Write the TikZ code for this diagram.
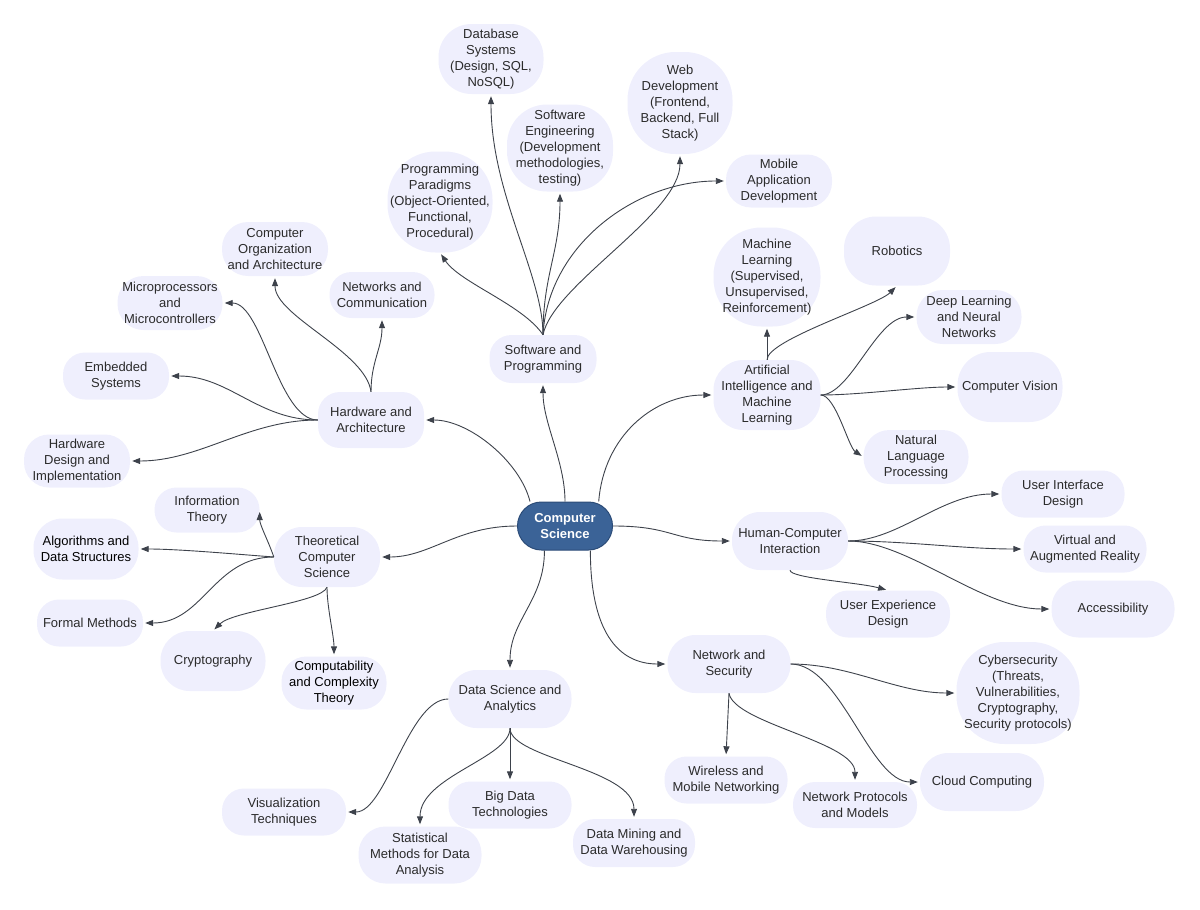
\documentclass[tikz,border=0pt]{standalone}
\usepackage{fontspec}
\setmainfont{Liberation Sans}
\usepackage{xcolor}
\usetikzlibrary{arrows.meta}
\definecolor{topicfill}{HTML}{EFEFFD}
\definecolor{mainfill}{HTML}{3B6397}
\definecolor{mainline}{HTML}{2C4C78}
\definecolor{linkgray}{HTML}{3D424B}
\definecolor{textgray}{HTML}{2B2B2B}

\begin{document}
\begin{tikzpicture}[x=1pt,y=-1pt,
	topic/.style={fill=topicfill,rounded corners=22pt,align=center,text=textgray,inner sep=1pt,font=\fontsize{13}{16}\selectfont},
	blob/.style={topic,rounded corners=40pt},
	wh/.style 2 args={minimum width=#1pt,minimum height=#2pt},
	root/.style={fill=mainfill,draw=mainline,line width=1pt,rounded corners=24pt,align=center,text=white,font=\fontsize{13}{16}\selectfont\bfseries},
	link/.style={draw=linkgray,line width=0.9pt,-{Triangle[length=8pt,width=6pt]},shorten >=2pt}]
	\useasboundingbox (0,0) rectangle (1200,910);

	\node[root,wh={95}{48}] (cs) at (565,526) {Computer\\Science};

	\node[topic,wh={107}{48}] (sw) at (543,359) {Software and\\Programming};
	\node[topic,wh={106}{56}] (hw) at (371,420) {Hardware and\\Architecture};
	\node[topic,wh={107}{70},rounded corners=30pt] (ai) at (767,395) {Artificial\\Intelligence and\\Machine\\Learning};
	\node[topic,wh={106}{60},rounded corners=28pt] (th) at (327,557) {Theoretical\\Computer\\Science};
	\node[topic,wh={116}{58},rounded corners=28pt] (hci) at (790,541) {Human-Computer\\Interaction};
	\node[topic,wh={123}{58},rounded corners=28pt] (ds) at (510,699) {Data Science and\\Analytics};
	\node[topic,wh={123}{58},rounded corners=28pt] (net) at (729,664) {Network and\\Security};

	\node[topic,wh={105}{70},rounded corners=33pt] (db) at (491,59) {Database\\Systems\\(Design, SQL,\\NoSQL)};
	\node[blob,wh={106}{87}] (se) at (560,148) {Software\\Engineering\\(Development\\methodologies,\\testing)};
	\node[blob,wh={105}{102},rounded corners=48pt] (web) at (680,103) {Web\\Development\\(Frontend,\\Backend, Full\\Stack)};
	\node[topic,wh={106}{53},rounded corners=25pt] (mob) at (779,181) {Mobile\\Application\\Development};
	\node[blob,wh={105}{101},rounded corners=48pt] (pp) at (440,202) {Programming\\Paradigms\\(Object-Oriented,\\Functional,\\Procedural)};

	\node[topic,wh={106}{54},rounded corners=26pt] (co) at (275,249) {Computer\\Organization\\and Architecture};
	\node[topic,wh={105}{46}] (nc) at (382,295) {Networks and\\Communication};
	\node[topic,wh={105}{54},rounded corners=26pt] (mp) at (170,303) {Microprocessors\\and\\Microcontrollers};
	\node[topic,wh={106}{47}] (es) at (116,376) {Embedded\\Systems};
	\node[topic,wh={106}{53},rounded corners=25pt] (hd) at (77,461) {Hardware\\Design and\\Implementation};

	\node[topic,wh={105}{45}] (it) at (207,510) {Information\\Theory};
	\node[topic,wh={105}{61},rounded corners=29pt,text=black] (ad) at (86,549) {Algorithms and\\Data Structures};
	\node[topic,wh={106}{47}] (fm) at (90,623) {Formal Methods};
	\node[topic,wh={105}{60},rounded corners=29pt] (cr) at (213,661) {Cryptography};
	\node[topic,wh={105}{53},rounded corners=25pt,text=black] (cc) at (334,683) {Computability\\and Complexity\\Theory};

	\node[topic,wh={124}{47}] (vt) at (284,812) {Visualization\\Techniques};
	\node[topic,wh={123}{57},rounded corners=27pt] (sm) at (420,855) {Statistical\\Methods for Data\\Analysis};
	\node[topic,wh={123}{47}] (bd) at (510,805) {Big Data\\Technologies};
	\node[topic,wh={122}{48}] (dm) at (634,843) {Data Mining and\\Data Warehousing};

	\node[topic,wh={123}{47}] (wm) at (726,780) {Wireless and\\Mobile Networking};
	\node[topic,wh={124}{46}] (np) at (855,805) {Network Protocols\\and Models};
	\node[topic,wh={124}{58},rounded corners=28pt] (cl) at (982,782) {Cloud Computing};
	\node[blob,wh={123}{102},rounded corners=48pt] (cy) at (1018,693) {Cybersecurity\\(Threats,\\Vulnerabilities,\\Cryptography,\\Security protocols)};

	\node[topic,wh={123}{47}] (ui) at (1063,494) {User Interface\\Design};
	\node[topic,wh={123}{47}] (va) at (1085,549) {Virtual and\\Augmented Reality};
	\node[topic,wh={123}{57},rounded corners=27pt] (ac) at (1113,609) {Accessibility};
	\node[topic,wh={124}{47}] (ux) at (888,614) {User Experience\\Design};

	\node[blob,wh={107}{99},rounded corners=48pt] (ml) at (767,277) {Machine\\Learning\\(Supervised,\\Unsupervised,\\Reinforcement)};
	\node[topic,wh={106}{69},rounded corners=32pt] (rb) at (897,251) {Robotics};
	\node[topic,wh={105}{54},rounded corners=26pt] (dl) at (969,317) {Deep Learning\\and Neural\\Networks};
	\node[topic,wh={105}{70},rounded corners=33pt] (cv) at (1010,387) {Computer Vision};
	\node[topic,wh={105}{54},rounded corners=26pt] (nl) at (916,457) {Natural\\Language\\Processing};

	\draw[link] (cs.north) .. controls +(0,-40) and +(0,40) .. (sw.south);
	\draw[link] (cs.145) .. controls +(-10,-40) and +(45,0) .. (hw.east);
	\draw[link] (cs.36) .. controls +(5,-65) and +(-60,0) .. (ai.west);
	\draw[link] (cs.west) .. controls +(-60,0) and +(50,0) .. (th.east);
	\draw[link] (cs.east) .. controls +(60,0) and +(-60,0) .. (hci.west);
	\draw[link] (cs.230) .. controls +(0,50) and +(0,-50) .. (ds.north);
	\draw[link] (cs.316) .. controls +(0,80) and +(-50,0) .. (net.west);

	\draw[link] (sw.north) .. controls +(0,-60) and +(0,100) .. (db.south);
	\draw[link] (sw.north) .. controls +(0,-60) and +(0,60) .. (se.south);
	\draw[link] (sw.north) .. controls +(10,-50) and +(0,60) .. (web.south);
	\draw[link] (sw.north) .. controls +(5,-90) and +(-90,0) .. (mob.west);
	\draw[link] (sw.north) .. controls +(-20,-30) and +(20,30) .. (pp.south);

	\draw[link] (hw.north) .. controls +(-5,-40) and +(0,40) .. (co.south);
	\draw[link] (hw.north) .. controls +(0,-30) and +(0,30) .. (nc.south);
	\draw[link] (hw.west) .. controls +(-40,0) and +(40,0) .. (mp.east);
	\draw[link] (hw.west) .. controls +(-60,0) and +(60,0) .. (es.east);
	\draw[link] (hw.west) .. controls +(-70,0) and +(70,0) .. (hd.east);

	\draw[link] (th.west) .. controls +(-5,-15) and +(0,15) .. (it.east);
	\draw[link] (th.west) .. controls +(-40,-3) and +(40,0) .. (ad.east);
	\draw[link] (th.west) .. controls +(-60,0) and +(60,0) .. (fm.east);
	\draw[link] (th.south) .. controls +(-5,15) and +(20,-20) .. (cr.north);
	\draw[link] (th.south) .. controls +(0,20) and +(0,-20) .. (cc.north);

	\draw[link] (ds.west) .. controls +(-40,0) and +(40,0) .. (vt.east);
	\draw[link] (ds.south) .. controls +(0,30) and +(0,-50) .. (sm.north);
	\draw[link] (ds.south) -- (bd.north);
	\draw[link] (ds.south) .. controls +(0,30) and +(0,-50) .. (dm.north);

	\draw[link] (net.south) -- (wm.north);
	\draw[link] (net.south) .. controls +(5,30) and +(0,-40) .. (np.north);
	\draw[link] (net.east) .. controls +(50,0) and +(-50,0) .. (cl.west);
	\draw[link] (net.east) .. controls +(60,0) and +(-60,0) .. (cy.west);

	\draw[link] (hci.east) .. controls +(50,0) and +(-60,0) .. (ui.west);
	\draw[link] (hci.east) .. controls +(60,0) and +(-60,0) .. (va.west);
	\draw[link] (hci.east) .. controls +(60,0) and +(-70,0) .. (ac.west);
	\draw[link] (hci.south) .. controls +(0,8) and +(-30,-8) .. (ux.north);

	\draw[link] (ai.north) -- (ml.south);
	\draw[link] (ai.north) .. controls +(0,-20) and +(-20,20) .. (rb.south);
	\draw[link] (ai.east) .. controls +(30,0) and +(-40,0) .. (dl.west);
	\draw[link] (ai.east) .. controls +(40,0) and +(-40,0) .. (cv.west);
	\draw[link] (ai.east) .. controls +(15,0) and +(-15,-10) .. (nl.west);
\end{tikzpicture}
\end{document}
